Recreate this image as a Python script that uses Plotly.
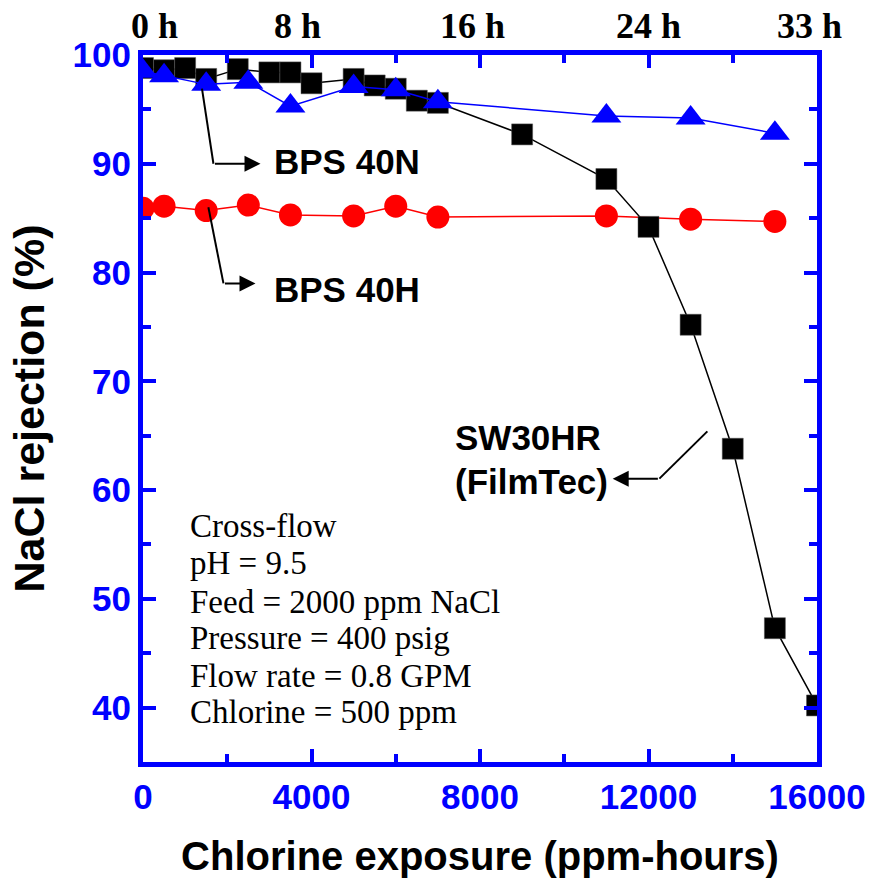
import plotly.graph_objects as go

# Chlorine exposure (ppm-hours) and NaCl rejection (%) for each membrane
sw30hr_x = [0, 500, 1000, 1500, 2250, 3000, 3500, 4000, 5000, 5500, 6000, 6500, 7000,
            9000, 11000, 12000, 13000, 14000, 15000, 16000]
sw30hr_y = [98.8, 98.6, 98.8, 97.8, 98.7, 98.4, 98.4, 97.4, 97.8, 97.2, 96.9, 95.8, 95.6,
            92.7, 88.6, 84.2, 75.2, 63.8, 47.3, 40.2]

bps40n_x = [0, 500, 1500, 2500, 3500, 5000, 6000, 7000, 11000, 13000, 15000]
bps40n_y = [98.5, 98.1, 97.3, 97.5, 95.3, 97.1, 96.8, 95.7, 94.4, 94.2, 92.8]

bps40h_x = [0, 500, 1500, 2500, 3500, 5000, 6000, 7000, 11000, 13000, 15000]
bps40h_y = [85.9, 86.1, 85.7, 86.2, 85.3, 85.2, 86.1, 85.1, 85.2, 84.9, 84.7]

x_ticks = [0, 4000, 8000, 12000, 16000]
y_ticks = [40, 50, 60, 70, 80, 90, 100]
hour_labels = ["0 h", "8 h", "16 h", "24 h", "33 h"]

conditions = ["Cross-flow", "pH = 9.5", "Feed = 2000 ppm NaCl", "Pressure = 400 psig",
              "Flow rate = 0.8 GPM", "Chlorine = 500 ppm"]

BLUE = "#0000FF"
RED = "#FF0000"
BLACK = "#000000"

fig = go.Figure()

fig.add_trace(go.Scatter(
    x=bps40h_x, y=bps40h_y, mode="lines+markers", name="BPS 40H",
    line=dict(color=RED, width=1.5),
    marker=dict(symbol="circle", size=23, color=RED, line=dict(width=0)),
))
fig.add_trace(go.Scatter(
    x=sw30hr_x, y=sw30hr_y, mode="lines+markers", name="SW30HR (FilmTec)",
    line=dict(color=BLACK, width=1.5),
    marker=dict(symbol="square", size=21, color=BLACK, line=dict(width=0.5, color="#555555")),
))
fig.add_trace(go.Scatter(
    x=bps40n_x, y=bps40n_y, mode="lines+markers", name="BPS 40N",
    line=dict(color=BLUE, width=1.5),
    marker=dict(symbol="triangle-up", size=26, color=BLUE, line=dict(width=0)),
))

axis_common = dict(
    showline=True, linewidth=5, linecolor=BLUE, mirror="allticks",
    ticks="inside", ticklen=13, tickwidth=4, tickcolor=BLUE,
    showgrid=False, zeroline=False, automargin=False,
    tickfont=dict(family="Liberation Sans, Arial", size=35, color=BLUE, weight="bold"),
)

fig.update_xaxes(
    range=[0, 16000], tickvals=x_ticks, ticktext=[str(v) for v in x_ticks],
    minor=dict(dtick=2000, tick0=0, ticks="inside", ticklen=8, tickwidth=4, tickcolor=BLUE, showgrid=False),
    title=dict(text="Chlorine exposure (ppm-hours)", standoff=28,
               font=dict(family="Liberation Sans, Arial", size=40, color=BLACK, weight="bold")),
    **axis_common,
)
fig.update_yaxes(
    range=[35, 100], tickvals=y_ticks, ticktext=[str(v) for v in y_ticks],
    minor=dict(dtick=5, tick0=35, ticks="inside", ticklen=8, tickwidth=4, tickcolor=BLUE, showgrid=False),
    title=dict(text="NaCl rejection (%)", standoff=16,
               font=dict(family="Liberation Sans, Arial", size=43, color=BLACK, weight="bold")),
    **axis_common,
)

annotations = []

# elapsed-time labels along the top edge
hour_pos = [263, 3666, 7810, 11990, 15830]
for pos, lab in zip(hour_pos, hour_labels):
    annotations.append(dict(
        x=pos, y=1.0, xref="x", yref="paper", yshift=29, text=lab, showarrow=False,
        xanchor="center", yanchor="middle",
        font=dict(family="Liberation Serif, Times New Roman", size=36, color=BLACK, weight="bold"),
    ))

label_font = dict(family="Liberation Sans, Arial", size=35, color=BLACK, weight="bold")

# membrane labels
annotations += [
    dict(x=3057, y=90.2, xref="x", yref="y", text="BPS 40N", showarrow=False,
         xanchor="left", yanchor="middle", font=label_font),
    dict(x=3057, y=78.4, xref="x", yref="y", text="BPS 40H", showarrow=False,
         xanchor="left", yanchor="middle", font=label_font),
    dict(x=7355, y=64.8, xref="x", yref="y", text="SW30HR", showarrow=False,
         xanchor="left", yanchor="middle", font=label_font),
    dict(x=7355, y=60.8, xref="x", yref="y", text="(FilmTec)", showarrow=False,
         xanchor="left", yanchor="middle", font=label_font),
]

# elbow leader lines: first leg as a shape, second leg ends in an arrowhead
leaders = [
    ((1400, 96.9), (1672, 90.0), (2790, 90.0)),
    ((1552, 86.0), (1910, 79.0), (2670, 79.0)),
    ((13397, 65.4), (12258, 61.05), (11150, 61.05)),
]
shapes = []
for start, elbow, tip in leaders:
    shapes.append(dict(type="line", xref="x", yref="y",
                       x0=start[0], y0=start[1], x1=elbow[0], y1=elbow[1],
                       line=dict(color=BLACK, width=2)))
    annotations.append(dict(
        x=tip[0], y=tip[1], ax=elbow[0], ay=elbow[1],
        xref="x", yref="y", axref="x", ayref="y",
        text="", showarrow=True, arrowhead=2, arrowsize=1.6, arrowwidth=2, arrowcolor=BLACK,
    ))

# experimental conditions block
cond_y = [56.7, 53.3, 49.7, 46.4, 42.9, 39.6]
for yy, line in zip(cond_y, conditions):
    annotations.append(dict(
        x=1075, y=yy, xref="x", yref="y", text=line, showarrow=False,
        xanchor="left", yanchor="middle",
        font=dict(family="Liberation Serif, Times New Roman", size=33, color=BLACK),
    ))

fig.update_layout(
    width=870, height=880,
    margin=dict(l=143, r=53, t=55, b=118),
    paper_bgcolor="white", plot_bgcolor="white",
    showlegend=False,
    annotations=annotations,
    shapes=shapes,
)

fig.write_html("out.html")
